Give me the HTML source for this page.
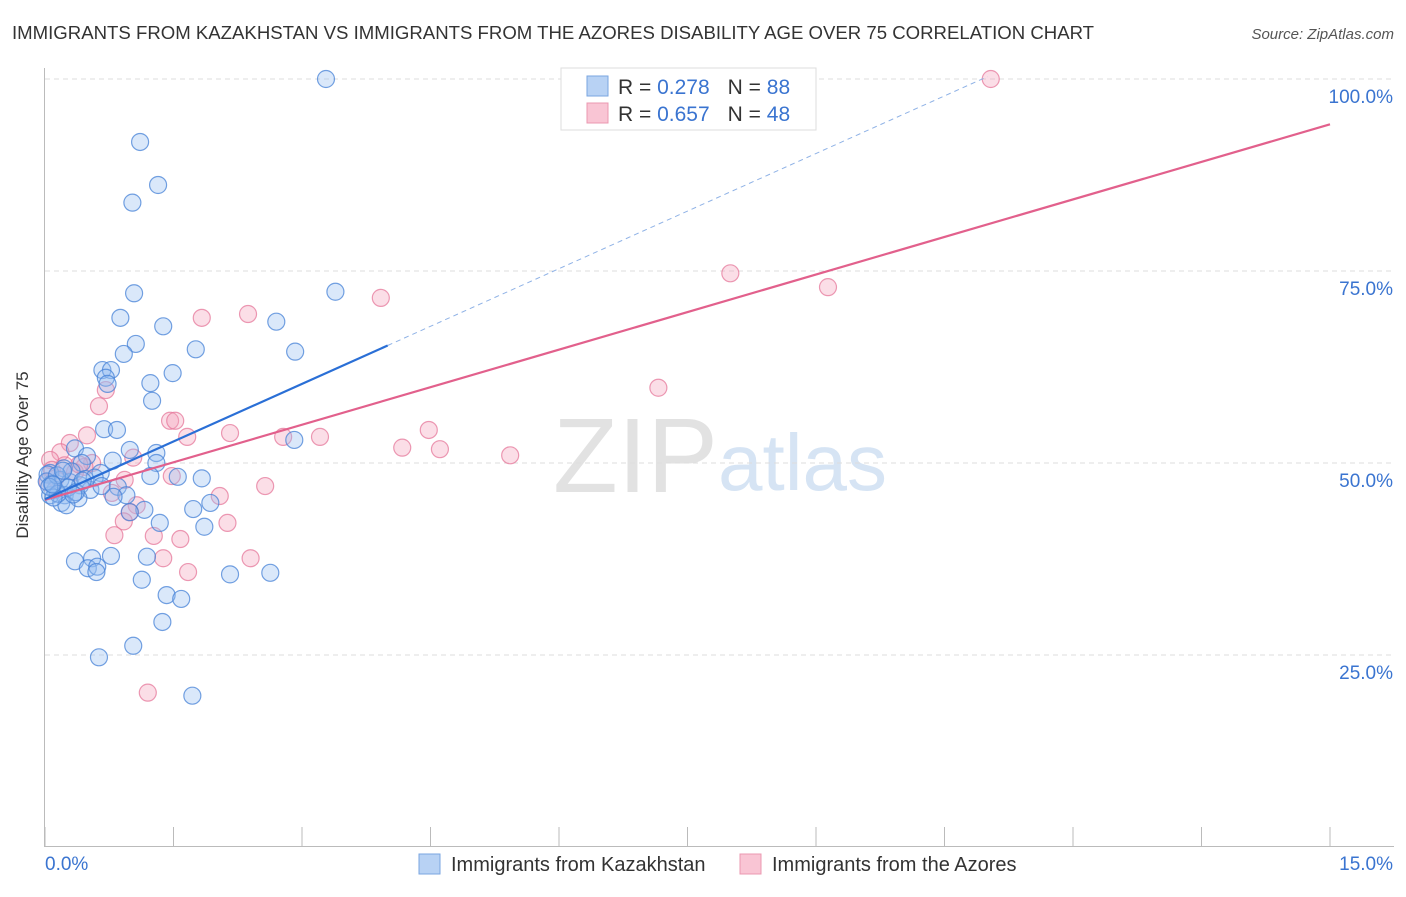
<!DOCTYPE html>
<html><head><meta charset="utf-8"><style>
body{margin:0;background:#fff;font-family:"Liberation Sans",sans-serif;}
svg text{font-family:"Liberation Sans",sans-serif;}
</style></head><body>
<svg id="c" width="1406" height="892" xmlns="http://www.w3.org/2000/svg">
<text x="12" y="39" font-size="18.6" fill="#333">IMMIGRANTS FROM KAZAKHSTAN VS IMMIGRANTS FROM THE AZORES DISABILITY AGE OVER 75 CORRELATION CHART</text>
<text x="1394" y="39" font-size="15" fill="#555" font-style="italic" text-anchor="end">Source: ZipAtlas.com</text>
<g>
<text x="553" y="492" font-size="106" fill="#e2e2e2" font-family="Liberation Serif">ZIP</text>
<text x="718" y="490" font-size="80" fill="#d6e4f4">atlas</text>
</g>
<g id="grid"></g><g id="axes"></g><g id="pts"></g><g id="lines"></g>
<g>
<rect x="561" y="68" width="255" height="62" fill="#fff" stroke="#ddd"/>
<rect x="587" y="76" width="21" height="20" fill="#b8d2f4" stroke="#7aa6e0"/>
<rect x="587" y="103" width="21" height="20" fill="#f9c5d4" stroke="#eb98b0"/>
<text x="618" y="94" font-size="21" fill="#333">R = <tspan fill="#3a74d0">0.278</tspan><tspan dx="18">N = </tspan><tspan fill="#3a74d0">88</tspan></text>
<text x="618" y="121" font-size="21" fill="#333">R = <tspan fill="#3a74d0">0.657</tspan><tspan dx="18">N = </tspan><tspan fill="#3a74d0">48</tspan></text>
</g>
<g>
<rect x="419" y="854" width="21" height="20" fill="#b8d2f4" stroke="#7aa6e0"/>
<text x="451" y="871" font-size="20" fill="#333">Immigrants from Kazakhstan</text>
<rect x="740" y="854" width="21" height="20" fill="#f9c5d4" stroke="#eb98b0"/>
<text x="772" y="871" font-size="20" fill="#333">Immigrants from the Azores</text>
</g>
<text x="28" y="455" font-size="17" fill="#333" transform="rotate(-90 28 455)" text-anchor="middle">Disability Age Over 75</text>
</svg>
<script>
const yTicks=[25,50,75,100];
const yTickLabels=["25.0%","50.0%","75.0%","100.0%"];
const xTicks=[0,1.5,3,4.5,6,7.5,9,10.5,12,13.5,15];
const blueX=[3.28,1.11,1.32,1.02,1.04,3.39,0.88,1.38,2.70,1.06,1.76,2.92,0.92,0.67,0.77,1.49,0.71,0.73,1.23,1.25,0.69,0.84,2.91,0.99,1.30,0.35,0.49,0.79,0.43,1.30,0.22,0.65,1.23,1.55,1.83,0.06,0.18,0.29,0.41,0.53,0.12,0.23,0.06,0.85,0.95,0.80,0.39,0.19,0.25,1.93,1.73,1.16,0.99,1.34,1.86,0.35,0.55,0.77,1.19,0.50,0.61,0.60,1.13,2.16,2.63,1.42,1.59,1.37,1.03,0.63,1.72,0.03,0.08,0.15,0.31,0.47,0.58,0.66,0.10,0.27,0.36,0.02,0.14,0.44,0.05,0.21,0.33,0.09];
const blueY=[100,91.8,86.2,83.9,72.1,72.3,68.9,67.8,68.4,65.5,64.8,64.5,64.2,62.1,62.1,61.7,61.1,60.3,60.4,58.1,54.4,54.3,53.0,51.7,51.3,51.9,50.9,50.3,50.0,50.0,49.3,48.7,48.3,48.2,48.0,48.7,47.8,47.5,47.1,46.5,46.5,45.8,45.8,46.9,45.8,45.6,45.4,44.8,44.5,44.8,44.0,43.9,43.6,42.2,41.7,37.2,37.6,37.9,37.8,36.3,36.5,35.8,34.8,35.5,35.7,32.8,32.3,29.3,26.2,24.7,19.7,48.5,47.3,46.0,48.9,47.9,48.1,47.0,45.5,46.8,46.2,47.6,48.4,47.7,46.9,49.0,45.9,47.2];
const pinkX=[11.04,8.0,9.14,3.92,2.37,1.83,7.16,0.63,0.71,1.46,1.52,0.49,2.16,1.66,2.78,3.21,4.48,4.17,4.61,5.43,0.29,0.18,0.06,0.08,0.55,1.03,0.23,0.46,0.93,1.48,2.57,0.78,2.04,1.07,0.99,0.92,2.13,0.81,1.58,1.27,1.38,2.40,1.67,1.20,0.12,0.35,0.03,0.40];
const pinkY=[100,74.7,72.9,71.5,69.4,68.9,59.8,57.4,59.5,55.5,55.5,53.6,53.9,53.4,53.4,53.4,54.3,52.0,51.8,51.0,52.6,51.4,50.4,49.1,50.0,50.7,49.7,49.5,47.8,48.3,47.0,46.1,45.7,44.5,43.6,42.4,42.2,40.6,40.1,40.5,37.6,37.6,35.8,20.1,48.0,48.8,47.5,49.8];
const blueFit=[45.3,5.0], blueSolidEnd=4.0, blueDashEnd=11.0;
const pinkFit=[45.2,3.26], pinkEnd=15;
const X=v=>45+v/15*1285, Y=v=>847-v/100*768;
const NS="http://www.w3.org/2000/svg";
function mk(p,t,a){const e=document.createElementNS(NS,t);for(const k in a)e.setAttribute(k,a[k]);p.appendChild(e);return e;}
const grid=document.getElementById('grid'),axes=document.getElementById('axes'),pts=document.getElementById('pts'),lines=document.getElementById('lines');
yTicks.forEach((t,i)=>{
 const g=mk(grid,'line',{x1:45,x2:1394,y1:Y(t),y2:Y(t),stroke:'#ddd','stroke-dasharray':'5,4'});
 
 
 const l=mk(axes,'text',{x:1393,y:Y(t)+24,'font-size':19,fill:'#3a74d0','text-anchor':'end'});
 l.textContent=yTickLabels[i];
 
 
});
const ax=mk(axes,'line',{x1:44.5,x2:44.5,y1:68,y2:847,stroke:'#bbb'});


const bx=mk(axes,'line',{x1:45,x2:1394,y1:846.5,y2:846.5,stroke:'#bbb'});


xTicks.forEach(t=>{
 const k=mk(axes,'line',{x1:X(t),x2:X(t),y1:827,y2:847,stroke:'#bbb'});
 
 
});
const x0=mk(axes,'text',{x:45,y:870,'font-size':19,fill:'#3a74d0'});x0.textContent='0.0%';


const x1=mk(axes,'text',{x:1393,y:870,'font-size':19,fill:'#3a74d0','text-anchor':'end'});x1.textContent='15.0%';


pinkX.forEach((v,i)=>{
 const c=mk(pts,'circle',{cx:X(v),cy:Y(pinkY[i]),r:8.5,fill:'rgba(244,160,185,0.35)',stroke:'rgba(230,120,155,0.75)','stroke-width':1.2});
 
 
});
blueX.forEach((v,i)=>{
 const c=mk(pts,'circle',{cx:X(v),cy:Y(blueY[i]),r:8.5,fill:'rgba(150,190,240,0.35)',stroke:'rgba(70,130,215,0.75)','stroke-width':1.2});
 
 
});
const f=(fit,x)=>fit[0]+fit[1]*x;
const bd=mk(lines,'line',{x1:X(blueSolidEnd),y1:Y(f(blueFit,blueSolidEnd)),x2:X(blueDashEnd),y2:Y(f(blueFit,blueDashEnd)),stroke:'#8fb2e6','stroke-width':1,'stroke-dasharray':'5,4'});


const pl=mk(lines,'line',{x1:X(0),y1:Y(f(pinkFit,0)),x2:X(pinkEnd),y2:Y(f(pinkFit,pinkEnd)),stroke:'#e2608c','stroke-width':2.2});


const bl=mk(lines,'line',{x1:X(0),y1:Y(f(blueFit,0)),x2:X(blueSolidEnd),y2:Y(f(blueFit,blueSolidEnd)),stroke:'#2a6fd6','stroke-width':2.2});


</script>
</body></html>
